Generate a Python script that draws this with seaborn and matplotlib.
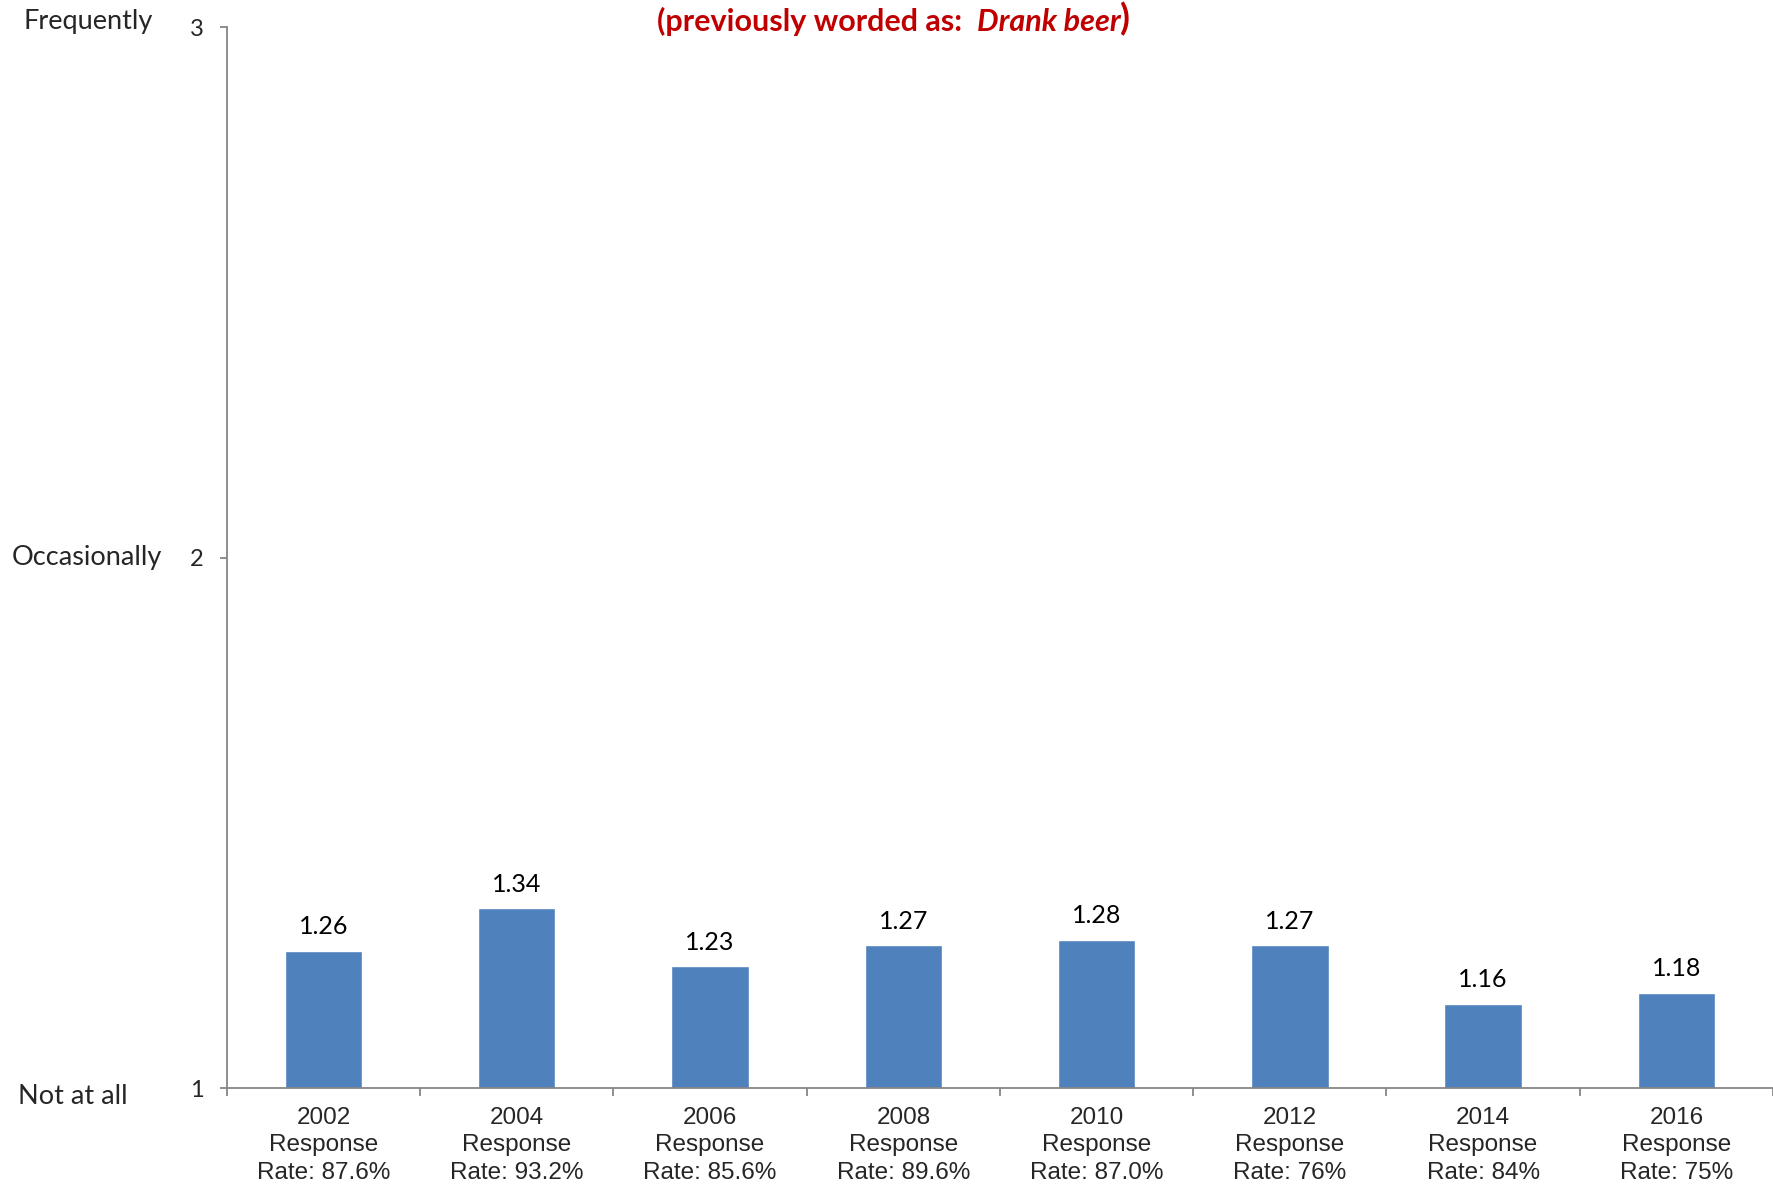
import matplotlib
matplotlib.use('Agg')
import matplotlib.pyplot as plt
import matplotlib.transforms as mtransforms
import seaborn as sns
import pandas as pd

years = ['2002', '2004', '2006', '2008', '2010', '2012', '2014', '2016']
rates = ['87.6%', '93.2%', '85.6%', '89.6%', '87.0%', '76%', '84%', '75%']
means = [1.26, 1.34, 1.23, 1.27, 1.28, 1.27, 1.16, 1.18]
scale_ticks = [1, 2, 3]
scale_names = ['Not at all', 'Occasionally', 'Frequently']

df = pd.DataFrame({
    'label': [y + '\nResponse\nRate: ' + r for y, r in zip(years, rates)],
    'mean': means,
})

sns.set_style('white')
plt.rcParams['font.family'] = ['Lato', 'DejaVu Sans']

fig = plt.figure(figsize=(17.73, 11.87), dpi=100)
ax = fig.add_axes([0.128, 0.083, 0.872, 0.894])

sns.barplot(data=df, x='label', y='mean', color='#4F81BD', width=0.4,
            saturation=1, ax=ax)

ax.set_ylim(1, 3)
ax.set_xlim(-0.5, len(years) - 0.5)
ax.set_xlabel('')
ax.set_ylabel('')

for s in ['top', 'right']:
    ax.spines[s].set_visible(False)
for s in ['left', 'bottom']:
    ax.spines[s].set_color('#868686')
    ax.spines[s].set_linewidth(1.3)

# data labels
for i, v in enumerate(means):
    ax.annotate(f'{v:.2f}', (i, v), xytext=(0, 9), textcoords='offset points',
                ha='center', va='bottom', fontsize=18, color='black')

# y axis: numbers on ticks, words further left
ax.set_yticks(scale_ticks)
ax.set_yticklabels([str(t) for t in scale_ticks], fontsize=17)
ax.tick_params(axis='y', which='major', direction='out', length=5,
               color='#868686', width=1.3, pad=12, left=True)

trans = mtransforms.blended_transform_factory(fig.transFigure, ax.transData)
name_x = [0.041, 0.049, 0.050]
name_dy = [-0.016, 0.0, 0.010]
for t, name, nx, dy in zip(scale_ticks, scale_names, name_x, name_dy):
    ax.text(nx, t + dy, name, transform=trans, ha='center', va='center',
            fontsize=19.5)

# x axis: labels at centres, tick marks between groups
ax.set_xticks(range(len(years)))
ax.set_xticklabels(df['label'], fontsize=17.5, family='Liberation Sans',
                   linespacing=1.33)
ax.tick_params(axis='x', which='major', length=0, pad=13, bottom=False)
ax.set_xticks([i - 0.5 for i in range(len(years) + 1)], minor=True)
ax.tick_params(axis='x', which='minor', direction='out', length=6,
               color='#868686', width=1.3, bottom=True)

# title, partly bold italic
red = '#C00000'
t1 = fig.text(0.3705, 0.974, '(previously worded as:  ', color=red,
              fontsize=22, fontweight='bold', va='baseline', ha='left')
t2 = ax.annotate('Drank beer', xy=(1, 0), xycoords=t1, va='bottom', ha='left',
                 color=red, fontsize=22, fontweight='bold', fontstyle='italic')
t3 = ax.annotate(')', xy=(1, 0), xycoords=t2, va='bottom', ha='left',
                 color=red, fontsize=26, fontweight='bold', annotation_clip=False)

fig.savefig('out.png', dpi=100)
